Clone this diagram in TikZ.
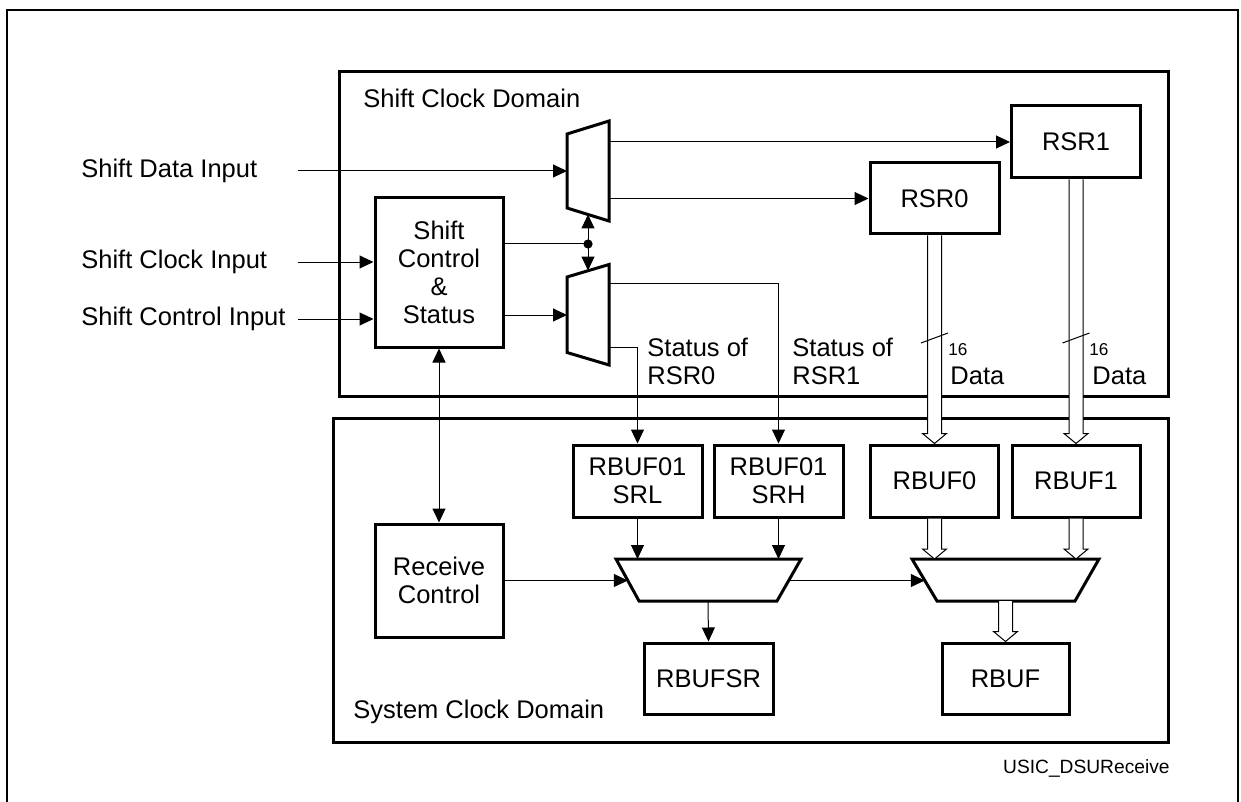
\documentclass[tikz,border=0pt]{standalone}
\usepackage{fontspec}
\setmainfont{Liberation Sans}
\usetikzlibrary{arrows.meta,calc}
\newcommand{\busarrow}[2]{%
  \draw[thinline, fill=white] ($(#1)+(-7,0)$) -- ($(#2)+(-7,-10)$) -- ($(#2)+(-12,-10)$) -- (#2) -- ($(#2)+(12,-10)$) -- ($(#2)+(7,-10)$) -- ($(#1)+(7,0)$);}
\begin{document}
\begin{tikzpicture}[x=0.5pt,y=-0.5pt,
  >={Triangle[length=7pt,width=6.5pt]},
  thinline/.style={line width=0.5pt},
  mainfont/.style={font=\fontsize{12.75}{13.9}\selectfont},
  box/.style={draw, line width=1.5pt, align=center, inner sep=0pt, mainfont, fill=white},
  lab/.style={inner sep=0pt, mainfont},
  muxst/.style={draw, line width=1.5pt, fill=white, line join=miter},
  domainbox/.style={draw, line width=1.5pt}]
\useasboundingbox (0,0) rectangle (1241,802);
% outer frame
\draw[line width=1pt] (7,802) -- (7,10) -- (1238,10) -- (1238,802);
% domains
\draw[domainbox] (339,72) rectangle (1168,396);
\draw[domainbox] (333,418) rectangle (1168,742);
\node[lab, anchor=west] (scdlab) at (363,98) {Shift Clock Domain};
\node[lab, anchor=west] (sysdlab) at (353,712) {System Clock Domain};
\node[inner sep=0pt, font=\fontsize{9.6}{11}\selectfont, anchor=east] (fig) at (1170,768) {USIC\_DSUReceive};

% boxes
\node[box, minimum width=64pt, minimum height=74.5pt] (scc) at (439,272.5) {Shift\\Control\\\&\\Status};
\node[box, minimum width=64pt, minimum height=56.5pt] (rc) at (439,580.5) {Receive\\Control};
\node[box, minimum width=64.5pt, minimum height=35.5pt] (rsr0) at (934.5,198.5) {RSR0};
\node[box, minimum width=64.5pt, minimum height=36pt] (rsr1) at (1076,142) {RSR1};
\node[box, minimum width=64.5pt, minimum height=36pt] (srl) at (637.5,481) {RBUF01\\SRL};
\node[box, minimum width=64.5pt, minimum height=36pt] (srh) at (778.5,481) {RBUF01\\SRH};
\node[box, minimum width=64pt, minimum height=36pt] (rbuf0) at (934.5,481) {RBUF0};
\node[box, minimum width=64pt, minimum height=36pt] (rbuf1) at (1076,481) {RBUF1};
\node[box, minimum width=64.5pt, minimum height=35.5pt] (rbufsr) at (708.5,678.5) {RBUFSR};
\node[box, minimum width=63.5pt, minimum height=35.5pt] (rbuf) at (1005.5,678.5) {RBUF};

% muxes
\draw[muxst] (567,134) -- (609,121) -- (609,221) -- (567,208) -- cycle;
\draw[muxst] (567,277) -- (609,264.5) -- (609,365) -- (567,352.5) -- cycle;
\draw[muxst] (616,559) -- (801,559) -- (777,601) -- (639,601) -- cycle;
\draw[muxst] (912,559) -- (1099,559) -- (1075,601) -- (937,601) -- cycle;

% named coordinates on muxes
\coordinate (m1in) at (567,171);
\coordinate (m2in) at (567,315);
\coordinate (m1b) at (588,214.5);
\coordinate (m2t) at (588,270.5);
\coordinate (dot) at (588,244);
\coordinate (m1o1) at (609,142);
\coordinate (m1o2) at (609,198.5);
\coordinate (m2o1) at (609,283);
\coordinate (m2o2) at (609,347);
\coordinate (mlin) at (627.8,580.5);
\coordinate (mlout) at (788.7,580.5);
\coordinate (mrin) at (924.8,580.5);
\coordinate (mltop) at (0,559);
\coordinate (mlbot) at (708,601);
\coordinate (mrbot) at (1005.5,601);

% input labels
\node[lab, anchor=west] (sdi) at (81,171) {Shift Data Input};
\node[lab, anchor=west] (sci) at (81,262) {Shift Clock Input};
\node[lab, anchor=west] (sctl) at (81,319) {Shift Control Input};
\coordinate (sdiE) at (298,171);
\coordinate (sciE) at (298,262);
\coordinate (sctlE) at (298,319);

\begin{scope}[thinline]
\draw[->] (sdiE) -- (m1in);
\draw[->] (sciE) -- (sciE -| scc.west);
\draw[->] (sctlE) -- (sctlE -| scc.west);
\draw (scc.east |- dot) -- (dot);
\draw[->] (scc.east |- m2in) -- (m2in);
\draw[->] (dot) -- (m1b);
\draw[->] (dot) -- (m2t);
\draw[->] (m1o1) -- (m1o1 -| rsr1.west);
\draw[->] (m1o2) -- (m1o2 -| rsr0.west);
\draw[->] (m2o1) -| (srh.north);
\draw[->] (m2o2) -| (srl.north);
\draw[<->] (scc.south) -- (rc.north);
\draw[->] (rc.east) -- (mlin);
\draw[->] (mlout) -- (mrin);
\draw[->] (srl.south) -- (srl.south |- mltop);
\draw[->] (srh.south) -- (srh.south |- mltop);
\draw[->] (mlbot) -- (rbufsr.north);
\end{scope}
\fill (dot) circle[radius=2.3pt];

% bus arrows
\coordinate (b0t) at (rsr0.south |- rbuf0.north);
\coordinate (b1t) at (rsr1.south |- rbuf1.north);
\coordinate (b2t) at (rbuf0.south |- mltop);
\coordinate (b3t) at (rbuf1.south |- mltop);
\busarrow{rsr0.south}{b0t}
\busarrow{rsr1.south}{b1t}
\busarrow{rbuf0.south}{b2t}
\busarrow{rbuf1.south}{b3t}
\busarrow{mrbot}{rbuf.north}

% width marks
\coordinate (s0) at (934.5,338);
\coordinate (s1) at (1076,338);
\draw[thinline] ($(s0)+(-13.5,5)$) -- ($(s0)+(13.5,-5)$);
\draw[thinline] ($(s1)+(-13.5,5)$) -- ($(s1)+(13.5,-5)$);
\node[inner sep=0pt, font=\fontsize{8.6}{9}\selectfont, anchor=west] (w0) at (948,350) {16};
\node[inner sep=0pt, font=\fontsize{8.6}{9}\selectfont, anchor=west] (w1) at (1089,350) {16};
\node[lab, anchor=west] (d0) at (950,376) {Data};
\node[lab, anchor=west] (d1) at (1092,376) {Data};

% status labels
\node[lab, anchor=west, align=left] (st0) at (647,361) {Status of\\RSR0};
\node[lab, anchor=west, align=left] (st1) at (792,361) {Status of\\RSR1};
\end{tikzpicture}
\end{document}
